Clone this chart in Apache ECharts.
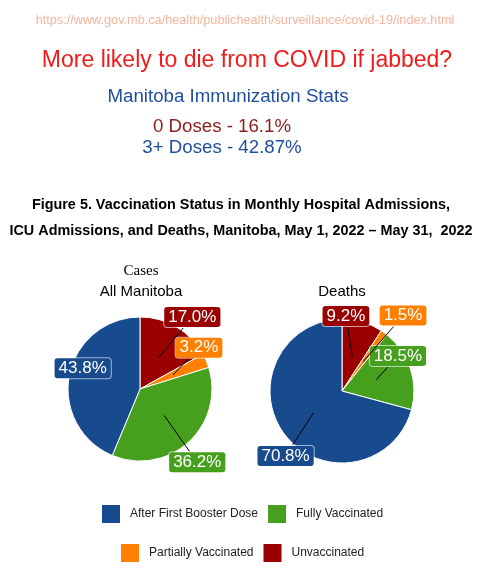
<!DOCTYPE html>
<html>
<head>
<meta charset="utf-8">
<script src="https://cdn.jsdelivr.net/npm/echarts@6/dist/echarts.min.js"></script>
<style>
html, body { margin: 0; padding: 0; background: #fff; }
#main { width: 485px; height: 582px; }
</style>
</head>
<body>
<div id="main"></div>
<script>
// data
var categories = ['Unvaccinated', 'Partially Vaccinated', 'Fully Vaccinated', 'After First Booster Dose'];
var casesValues = [17.0, 3.2, 36.2, 43.8];
var deathsValues = [9.2, 1.5, 18.5, 70.8];
var legendRow1 = ['After First Booster Dose', 'Fully Vaccinated'];
var legendRow2 = ['Partially Vaccinated', 'Unvaccinated'];

var colors = ['#9b0000', '#ff8000', '#46a01e', '#184a8e'];
var SANS = '"Liberation Sans", Arial, sans-serif';
var LABEL_FONT = 17;
var LABEL_PAD = [2, 4, 1, 4];
var R = 72;
var casesCenter = [140, 389];
var deathsCenter = [342, 391];

// where each label box sits: [angle from 12 o'clock, distance from centre]
var casesSpots = [[36, 89], [55, 72], [142, 93], [290, 61]];
var deathsSpots = [[3, 75], [39, 97], [58, 66], [221, 86]];

function fmt(v) { return v.toFixed(1) + '%'; }

var measureCtx = document.createElement('canvas').getContext('2d');
function labelBox(text) {
    measureCtx.font = LABEL_FONT + 'px ' + SANS;
    return [
        measureCtx.measureText(text).width + LABEL_PAD[1] + LABEL_PAD[3] + 2,
        LABEL_FONT + LABEL_PAD[0] + LABEL_PAD[2] + 2
    ];
}

function spotXY(center, spot) {
    var a = spot[0] * Math.PI / 180;
    return [center[0] + spot[1] * Math.sin(a), center[1] - spot[1] * Math.cos(a)];
}

function midAngle(values, i) {
    var total = 0, before = 0;
    values.forEach(function (v, k) { total += v; if (k < i) before += v; });
    return (before + values[i] / 2) / total * 2 * Math.PI;
}

function pieSeries(name, values, center, spots) {
    return {
        name: name,
        type: 'pie',
        z: 2,
        center: center,
        radius: R,
        startAngle: 90,
        clockwise: true,
        avoidLabelOverlap: false,
        data: values.map(function (v, i) {
            return {
                name: categories[i],
                value: v,
                itemStyle: {color: colors[i]},
                label: {backgroundColor: colors[i]}
            };
        }),
        itemStyle: {borderColor: '#fff', borderWidth: 1},
        label: {
            show: true,
            position: 'outside',
            formatter: function (p) { return fmt(p.value); },
            color: '#fff',
            fontSize: LABEL_FONT,
            fontFamily: SANS,
            padding: LABEL_PAD,
            borderRadius: 3,
            borderWidth: 1,
            borderColor: 'rgba(255,255,255,0.6)'
        },
        labelLine: {show: false},
        labelLayout: function (p) {
            var xy = spotXY(center, spots[p.dataIndex]);
            return {x: xy[0], y: xy[1], align: 'center', verticalAlign: 'middle'};
        },
        emphasis: {disabled: true}
    };
}

// leader lines: from halfway out along each slice towards its label, stopping at the box edge
function leaderSeries(values, center, spots, skip) {
    return {
        type: 'custom',
        coordinateSystem: 'none',
        z: 10,
        silent: true,
        data: values.map(function (v) { return [v]; }),
        renderItem: function (params, api) {
            var i = params.dataIndex;
            if (skip && skip.indexOf(i) >= 0) return null;
            var mid = midAngle(values, i);
            var sx = center[0] + R * 0.5 * Math.sin(mid);
            var sy = center[1] - R * 0.5 * Math.cos(mid);
            var c = spotXY(center, spots[i]);
            var box = labelBox(fmt(api.value(0)));
            var dx = c[0] - sx, dy = c[1] - sy;
            var tx = Math.abs(dx) > 0 ? 1 - box[0] / 2 / Math.abs(dx) : 0;
            var ty = Math.abs(dy) > 0 ? 1 - box[1] / 2 / Math.abs(dy) : 0;
            var t = Math.max(tx, ty, 0);
            return {
                type: 'line',
                z2: 100,
                shape: {x1: sx, y1: sy, x2: sx + dx * t, y2: sy + dy * t},
                style: {stroke: '#000', lineWidth: 1}
            };
        }
    };
}

function txt(x, y, text, size, color, extra) {
    var style = {
        text: text,
        fontSize: size,
        fontFamily: SANS,
        fill: color,
        textAlign: 'center',
        textVerticalAlign: 'middle'
    };
    for (var k in (extra || {})) style[k] = extra[k];
    return {type: 'text', x: x, y: y, style: style, silent: true};
}

var myChart = echarts.init(document.getElementById('main'));
var legendBase = {
    icon: 'rect',
    itemWidth: 20,
    itemHeight: 20,
    itemGap: 8,
    padding: 0,
    selectedMode: false,
    textStyle: {fontSize: 12, fontFamily: SANS, color: '#222', padding: [0, 0, 0, 4]}
};
var option = {
    animation: false,
    backgroundColor: '#fff',
    graphic: [
        txt(245, 20, 'https://www.gov.mb.ca/health/publichealth/surveillance/covid-19/index.html', 12.7, '#f5b59c'),
        txt(247, 61, 'More likely to die from COVID if jabbed?', 23, '#ee1c1c'),
        txt(228, 97, 'Manitoba Immunization Stats', 18.7, '#1f4f9c'),
        txt(222, 127, '0 Doses - 16.1%', 18.7, '#8e1b1b'),
        txt(222, 148, '3+ Doses - 42.87%', 18.7, '#1f4f9c'),
        txt(241, 205, 'Figure 5. Vaccination Status in Monthly Hospital Admissions,', 14.4, '#000', {fontWeight: 'bold'}),
        txt(241, 231, 'ICU Admissions, and Deaths, Manitoba, May 1, 2022 \u2013 May 31,  2022', 14.4, '#000', {fontWeight: 'bold'}),
        txt(141, 271, 'Cases', 15, '#000', {fontFamily: '"Liberation Serif", "Times New Roman", serif'}),
        txt(141, 292, 'All Manitoba', 15, '#000'),
        txt(342, 292, 'Deaths', 15, '#000')
    ],
    legend: [
        Object.assign({}, legendBase, {data: legendRow1, left: 100, top: 503}),
        Object.assign({}, legendBase, {data: legendRow2, left: 119, top: 542})
    ],
    series: [
        pieSeries('Cases', casesValues, casesCenter, casesSpots),
        pieSeries('Deaths', deathsValues, deathsCenter, deathsSpots),
        leaderSeries(casesValues, casesCenter, casesSpots, [3]),
        leaderSeries(deathsValues, deathsCenter, deathsSpots)
    ]
};
myChart.setOption(option);
</script>
</body>
</html>
